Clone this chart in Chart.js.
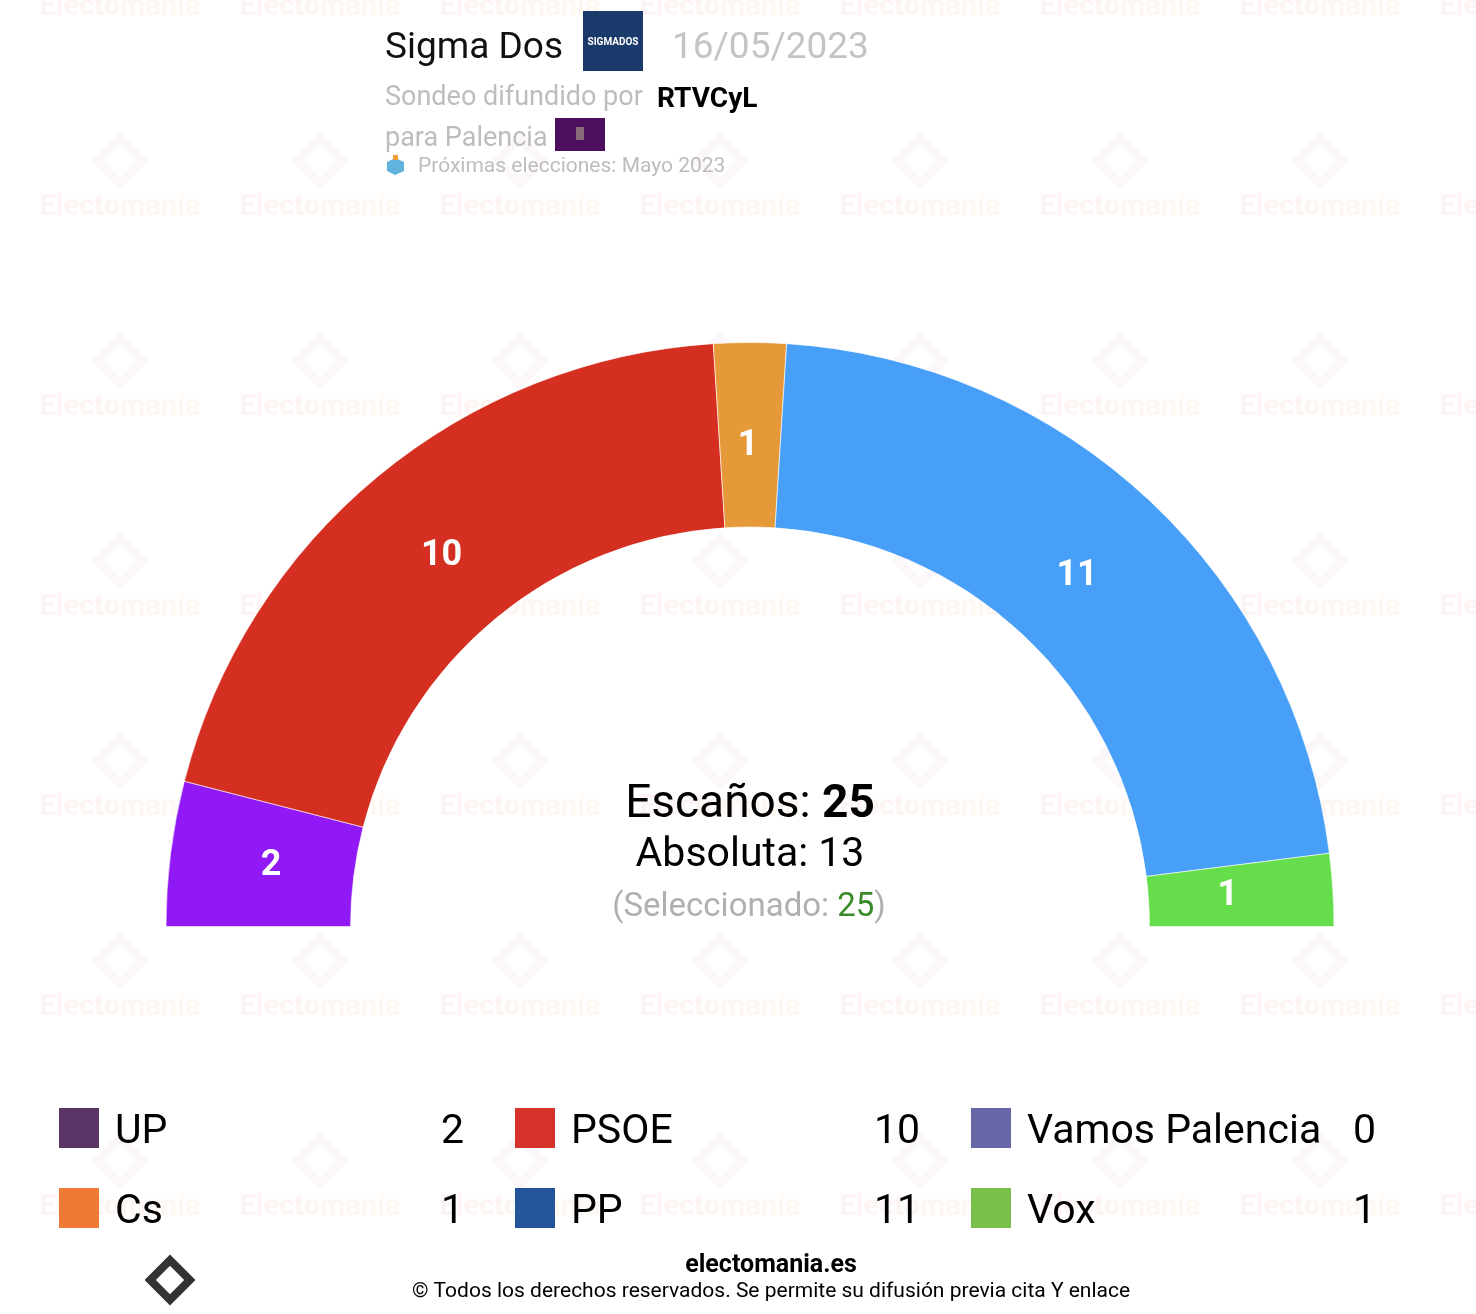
<!DOCTYPE html>
<html>
<head>
<meta charset="utf-8">
<script src="https://cdn.jsdelivr.net/npm/chart.js@4"></script>
<style>
  html, body { margin: 0; padding: 0; background: #fff; }
  #wrap { position: relative; width: 1476px; height: 1314px; }
</style>
</head>
<body>
<div id="wrap"><canvas id="escanos" width="1476" height="1314"></canvas></div>
<script>
// datos del sondeo (orden del hemiciclo, izquierda a derecha)
const partidos = ['UP', 'PSOE', 'Vamos Palencia', 'Cs', 'PP', 'Vox'];
const escanos = [2, 10, 0, 1, 11, 1];
const colores = ['#9019F5', '#D52F21', '#6767A8', '#E69938', '#479FF8', '#66DD4A'];
// colores de los logos de la leyenda
const coloresLogo = ['#5B3565', '#D4322A', '#6767A8', '#EF7A35', '#245499', '#78C04A'];
// orden de la leyenda (dos filas de tres)
const ordenLeyenda = ['UP', 'PSOE', 'Vamos Palencia', 'Cs', 'PP', 'Vox'];

const totalEscanos = escanos.reduce((a, b) => a + b, 0);
const absoluta = Math.floor(totalEscanos / 2) + 1;

const F = 'Roboto, "Noto Sans", sans-serif';

const marcaAgua = {
    id: 'marcaAgua',
    beforeDraw(chart) {
        const c = chart.ctx;
        c.save();
        for (let j = 0; j < 7; j++) {
            for (let i = 0; i < 8; i++) {
                const x = 120 + i * 200, y = 6 + j * 200;
                const g = c.createLinearGradient(x - 80, 0, x + 80, 0);
                g.addColorStop(0, 'rgba(235, 120, 130, 0.09)');
                g.addColorStop(1, 'rgba(245, 170, 90, 0.09)');
                c.fillStyle = g;
                c.font = 'bold 29px ' + F;
                c.textAlign = 'center';
                c.textBaseline = 'middle';
                c.fillText('Electomanía', x, y + 2);
                c.save();
                c.translate(x, y - 45);
                c.rotate(Math.PI / 4);
                c.strokeStyle = 'rgba(180, 130, 190, 0.07)';
                c.lineWidth = 9;
                c.strokeRect(-16, -16, 32, 32);
                c.restore();
            }
        }
        c.restore();
    }
};

const textos = {
    id: 'textos',
    afterDraw(chart) {
        const c = chart.ctx;
        c.save();

        // etiquetas de escaños sobre cada sector
        const meta = chart.getDatasetMeta(0);
        c.fillStyle = '#fff';
        c.font = 'bold 36px ' + F;
        c.textAlign = 'center';
        c.textBaseline = 'middle';
        meta.data.forEach((arc, i) => {
            if (!escanos[i]) return;
            const p = arc.getProps(['x', 'y', 'startAngle', 'endAngle', 'innerRadius', 'outerRadius']);
            const a = (p.startAngle + p.endAngle) / 2;
            const r = p.innerRadius + 0.44 * (p.outerRadius - p.innerRadius);
            c.fillText(String(escanos[i]), p.x + Math.cos(a) * r - 2, p.y + Math.sin(a) * r);
        });
        c.textBaseline = 'alphabetic';

        // cabecera
        c.textAlign = 'left';
        c.fillStyle = '#111';
        c.font = '37px ' + F;
        c.fillText('Sigma Dos', 385, 58);
        c.fillStyle = '#1A3A6B';
        c.fillRect(583, 11, 60, 60);
        c.fillStyle = '#fff';
        c.font = 'bold 10px ' + F;
        c.textAlign = 'center';
        c.fillText('SIGMADOS', 613, 45);
        c.textAlign = 'left';
        c.fillStyle = '#c4c4c4';
        c.font = '37px ' + F;
        c.fillText('16/05/2023', 672, 58);

        c.fillStyle = '#bdbdbd';
        c.font = '27px ' + F;
        c.fillText('Sondeo difundido por', 385, 105);
        c.fillStyle = '#000';
        c.font = 'bold 28px ' + F;
        c.fillText('RTVCyL', 657, 107);
        c.fillStyle = '#bdbdbd';
        c.font = '27px ' + F;
        c.fillText('para Palencia', 385, 146);
        c.fillStyle = '#4B0F5E';
        c.fillRect(555, 118, 50, 33);
        c.fillStyle = '#8a6a7a';
        c.fillRect(576, 127, 8, 13);

        // urna
        c.fillStyle = '#5fb3dc';
        c.beginPath();
        c.moveTo(387, 162); c.lineTo(395, 158); c.lineTo(404, 162);
        c.lineTo(404, 171); c.lineTo(395, 175); c.lineTo(387, 171);
        c.closePath(); c.fill();
        c.fillStyle = '#f0a030';
        c.fillRect(393, 155, 5, 5);
        c.fillStyle = '#bdbdbd';
        c.font = '21px ' + F;
        c.fillText('Próximas elecciones: Mayo 2023', 418, 172);

        // centro del hemiciclo
        c.textAlign = 'left';
        const t1 = 'Escaños: ';
        c.font = 'bold 46px ' + F;
        const w2 = c.measureText(String(totalEscanos)).width;
        c.font = '46px ' + F;
        const w1 = c.measureText(t1).width;
        let x0 = 750 - (w1 + w2) / 2;
        c.fillStyle = '#000';
        c.fillText(t1, x0, 817);
        c.font = 'bold 46px ' + F;
        c.fillText(String(totalEscanos), x0 + w1, 817);

        c.textAlign = 'center';
        c.font = '41px ' + F;
        c.fillText('Absoluta: ' + absoluta, 750, 866);

        c.textAlign = 'left';
        c.font = '33px ' + F;
        const s1 = '(Seleccionado: ', s2 = String(totalEscanos), s3 = ')';
        const ws = [s1, s2, s3].map(s => c.measureText(s).width);
        x0 = 749 - (ws[0] + ws[1] + ws[2]) / 2;
        c.fillStyle = '#b0b0b0';
        c.fillText(s1, x0, 916);
        c.fillStyle = '#3a8a2a';
        c.fillText(s2, x0 + ws[0], 916);
        c.fillStyle = '#b0b0b0';
        c.fillText(s3, x0 + ws[0] + ws[1], 916);

        // leyenda
        ordenLeyenda.forEach((nombre, k) => {
            const idx = partidos.indexOf(nombre);
            const col = k % 3, fila = Math.floor(k / 3);
            const x = 59 + col * 456, y = 1108 + fila * 80;
            c.fillStyle = coloresLogo[idx];
            c.fillRect(x, y, 40, 40);
            c.fillStyle = '#000';
            c.font = '41px ' + F;
            c.textAlign = 'left';
            c.fillText(nombre, x + 56, y + 35);
            c.textAlign = 'right';
            c.fillText(String(escanos[idx]), x + 405, y + 35);
        });

        // pie
        c.textAlign = 'center';
        c.fillStyle = '#000';
        c.font = 'bold 25px ' + F;
        c.fillText('electomania.es', 771, 1272);
        c.font = '21px ' + F;
        c.fillText('© Todos los derechos reservados. Se permite su difusión previa cita Y enlace', 771, 1297);

        c.save();
        c.translate(170, 1280);
        c.rotate(Math.PI / 4);
        c.strokeStyle = '#333';
        c.lineWidth = 8;
        c.strokeRect(-14, -14, 28, 28);
        c.restore();

        c.restore();
    }
};

new Chart(document.getElementById('escanos'), {
    type: 'doughnut',
    data: {
        labels: partidos,
        datasets: [{
            data: escanos,
            backgroundColor: colores,
            borderColor: 'rgba(255,255,255,0.6)',
            borderWidth: 1
        }]
    },
    options: {
        responsive: false,
        animation: false,
        rotation: -90,
        circumference: 180,
        cutout: '68.4%',
        layout: {
            padding: { left: 165, right: 141, top: 342, bottom: 387 }
        },
        plugins: {
            legend: { display: false },
            tooltip: { enabled: false }
        }
    },
    plugins: [marcaAgua, textos]
});
</script>
</body>
</html>
